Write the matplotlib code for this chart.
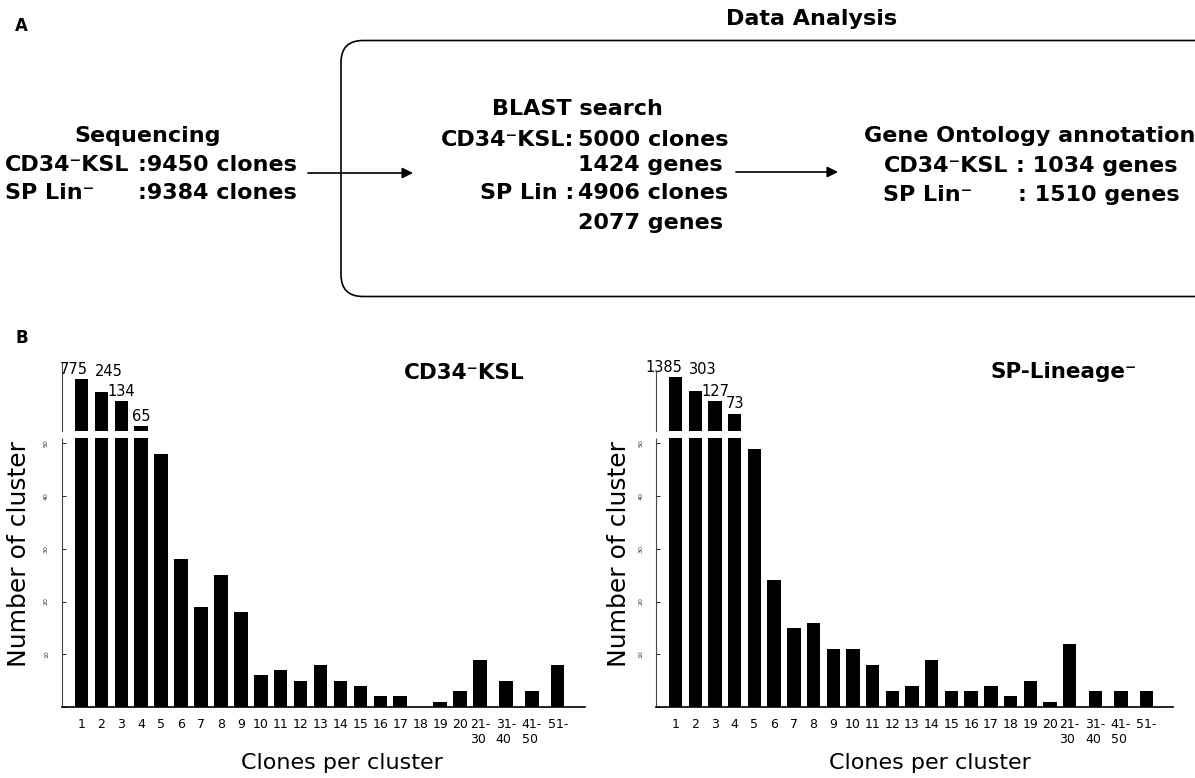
import numpy as np
import matplotlib
matplotlib.use('Agg')
import matplotlib.pyplot as plt
from matplotlib.patches import FancyBboxPatch

# --- Datos ---
categories = [str(i) for i in range(1, 21)] + ['21-\n30', '31-\n40', '41-\n50', '51-']
cd34_counts = [775, 245, 134, 65, 48, 28, 19, 25, 18, 6, 7, 5, 8, 5, 4, 2, 2, 0, 1, 3, 9, 5, 3, 8]
sp_counts = [1385, 303, 127, 73, 49, 24, 15, 16, 11, 11, 8, 3, 4, 9, 3, 3, 4, 2, 5, 1, 12, 3, 3, 3]
yticks = [0, 10, 20, 30, 40, 50]

FIG_W, FIG_H = 1195, 778
OFFSET = 60  # upper (broken) part: log scale of (count - OFFSET)


def fwd(v):
    v = np.asarray(v, dtype=float)
    return np.log10(np.clip(v - OFFSET, 1e-3, None))


def inv(u):
    return 10 ** np.asarray(u, dtype=float) + OFFSET


def rect(x0, y0, x1, y1):
    # pixel box (top-left origin) -> figure fraction
    return [x0 / FIG_W, 1 - y1 / FIG_H, (x1 - x0) / FIG_W, (y1 - y0) / FIG_H]


fig = plt.figure(figsize=(FIG_W / 100, FIG_H / 100), dpi=100)

# --- Panel A (flow chart) on an overlay in pixel coordinates ---
ov = fig.add_axes([0, 0, 1, 1])
ov.set_xlim(0, FIG_W)
ov.set_ylim(FIG_H, 0)
ov.axis('off')

bold = dict(fontsize=16, fontweight='bold', va='center')
ov.text(21, 26, 'A', fontsize=12, fontweight='bold', ha='center', va='center')
ov.text(22, 338, 'B', fontsize=12, fontweight='bold', ha='center', va='center')

ov.text(148, 136, 'Sequencing', ha='center', **bold)
ov.text(5, 165, 'CD34⁻KSL', ha='left', **bold)
ov.text(138, 165, ':9450 clones', ha='left', **bold)
ov.text(5, 193, 'SP Lin⁻', ha='left', **bold)
ov.text(138, 193, ':9384 clones', ha='left', **bold)

box = FancyBboxPatch((341, 40.5), 1000, 256, boxstyle='round,pad=0,rounding_size=22',
                     facecolor='none', edgecolor='black', linewidth=1.2, clip_on=True)
ov.add_patch(box)
ov.text(812, 19, 'Data Analysis', ha='center', **bold)

ov.text(577, 109, 'BLAST search', ha='center', **bold)
ov.text(574, 140, 'CD34⁻KSL:', ha='right', **bold)
ov.text(578, 140, '5000 clones', ha='left', **bold)
ov.text(578, 165, '1424 genes', ha='left', **bold)
ov.text(574, 193, 'SP Lin :', ha='right', **bold)
ov.text(578, 193, '4906 clones', ha='left', **bold)
ov.text(578, 223, '2077 genes', ha='left', **bold)

ov.text(1030, 136, 'Gene Ontology annotation', ha='center', **bold)
ov.text(884, 166, 'CD34⁻KSL', ha='left', **bold)
ov.text(1016, 166, ': 1034 genes', ha='left', **bold)
ov.text(883, 195, 'SP Lin⁻', ha='left', **bold)
ov.text(1018, 195, ': 1510 genes', ha='left', **bold)

arrow = dict(arrowstyle='-|>', color='black', lw=1.2, mutation_scale=16, shrinkA=0, shrinkB=0)
ov.annotate('', xy=(413, 173), xytext=(308, 173), arrowprops=arrow)
ov.annotate('', xy=(838, 172), xytext=(736, 172), arrowprops=arrow)


# --- Panel B: broken-axis bar charts ---
def draw_chart(counts, x0, x1, up_top, up_ylim, title, title_xy, xlab_x, ylab_x):
    pos = np.r_[np.arange(1, 22), 21 + 1.3 * np.arange(1, 4)]
    width = 0.68

    ax = fig.add_axes(rect(x0, 438, x1, 707))
    ax_up = fig.add_axes(rect(x0, up_top, x1, 431))

    for a in (ax, ax_up):
        a.bar(pos, counts, width=width, color='black')
        a.set_xlim(0, 26.25)
        a.patch.set_alpha(0)
        for s in ('top', 'right'):
            a.spines[s].set_visible(False)
        a.spines['left'].set_linestyle((0, (1.5, 1)))
        a.spines['left'].set_linewidth(0.8)
        a.spines['left'].set_color('#444444')

    # lower part
    ax.set_ylim(0, 51)
    ax.set_yticks(yticks)
    ax.set_yticklabels([''] + [str(t) for t in yticks[1:]], rotation=90,
                       fontsize=4.5, color='#333333', va='center')
    ax.tick_params(axis='y', direction='in', length=3, width=0.6, pad=9)
    ax.set_xticks(pos)
    ax.set_xticklabels(categories, fontsize=9)
    for lbl in ax.get_xticklabels():
        lbl.set_multialignment('left')
    ax.tick_params(axis='x', length=0, pad=8)
    ax.spines['bottom'].set_linewidth(1.2)
    ax.set_xlabel('Clones per cluster', fontsize=16)
    ax.xaxis.set_label_coords(xlab_x, -0.172)
    ax.set_ylabel('Number of cluster', fontsize=18)
    ax.yaxis.set_label_coords(ylab_x, 0.569)

    # upper part (above the break)
    ax_up.set_yscale('function', functions=(fwd, inv))
    ax_up.set_ylim(*up_ylim)
    ax_up.spines['bottom'].set_visible(False)
    ax_up.set_xticks([])
    ax_up.set_yticks([])
    ax_up.minorticks_off()
    # first label right-aligned on bar 1, second written next to it at the same level
    ax_up.annotate(str(counts[0]), (pos[0] + width / 2, counts[0]), xytext=(0, 1.5),
                   textcoords='offset points', ha='right', va='bottom', fontsize=10.5,
                   annotation_clip=False)
    ax_up.annotate(str(counts[1]), (pos[1] - width / 2, counts[0]), xytext=(0, 0),
                   textcoords='offset points', ha='left', va='bottom', fontsize=10.5,
                   annotation_clip=False)
    for i in (2, 3):
        ax_up.annotate(str(counts[i]), (pos[i], counts[i]), xytext=(0, 1.5),
                       textcoords='offset points', ha='center', va='bottom', fontsize=10.5,
                       annotation_clip=False)

    ov.text(title_xy[0], title_xy[1], title, ha='center', va='center',
            fontsize=15.5, fontweight='bold')


draw_chart(cd34_counts, 61.5, 584.6, 362, (62.9, 4568), 'CD34⁻KSL', (464, 373), 0.536, -0.058)
draw_chart(sp_counts, 656, 1173, 372, (61.4, 2702), 'SP-Lineage⁻', (1064, 372), 0.53, -0.048)

fig.savefig('out.png', dpi=100)
